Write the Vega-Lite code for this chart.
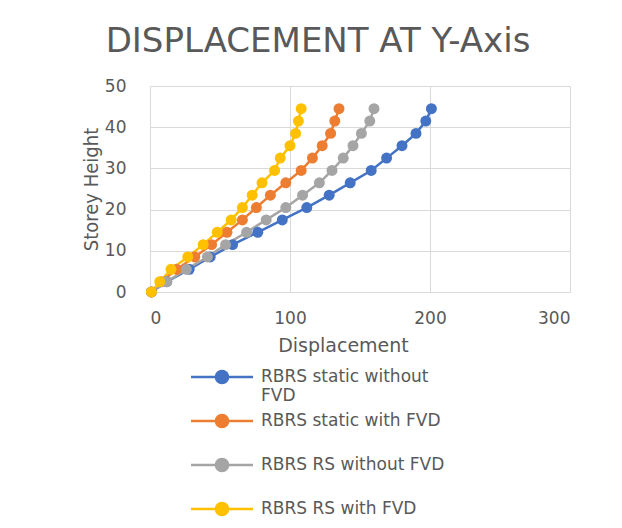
{
  "$schema": "https://vega.github.io/schema/vega-lite/v6.json",
  "autosize": "none",
  "width": 420,
  "height": 206,
  "padding": {"left": 150, "top": 86, "right": 52, "bottom": 236},
  "background": "white",
  "title": {
    "text": "DISPLACEMENT AT Y-Axis",
    "font": "DejaVu Sans",
    "fontSize": 34,
    "fontWeight": "normal",
    "color": "#595959",
    "anchor": "middle",
    "baseline": "alphabetic",
    "offset": -9,
    "dx": -42
  },
  "config": {
    "view": {"stroke": null},
    "font": "DejaVu Sans",
    "style": {"guide-label": {"lineHeight": 19}},
    "axis": {
      "grid": true,
      "gridColor": "#d9d9d9",
      "gridWidth": 1,
      "domain": false,
      "ticks": false,
      "labelColor": "#595959",
      "labelFont": "DejaVu Sans",
      "labelFontSize": 17,
      "titleColor": "#595959",
      "titleFontWeight": "normal"
    }
  },
  "data": {
    "values": [
      {"series": "RBRS static without FVD", "height": 0, "disp": 1},
      {"series": "RBRS static without FVD", "height": 2.5, "disp": 12},
      {"series": "RBRS static without FVD", "height": 5.5, "disp": 28},
      {"series": "RBRS static without FVD", "height": 8.5, "disp": 43},
      {"series": "RBRS static without FVD", "height": 11.5, "disp": 59},
      {"series": "RBRS static without FVD", "height": 14.5, "disp": 77},
      {"series": "RBRS static without FVD", "height": 17.5, "disp": 94.5},
      {"series": "RBRS static without FVD", "height": 20.5, "disp": 112},
      {"series": "RBRS static without FVD", "height": 23.5, "disp": 128},
      {"series": "RBRS static without FVD", "height": 26.5, "disp": 143},
      {"series": "RBRS static without FVD", "height": 29.5, "disp": 158},
      {"series": "RBRS static without FVD", "height": 32.5, "disp": 169},
      {"series": "RBRS static without FVD", "height": 35.5, "disp": 180},
      {"series": "RBRS static without FVD", "height": 38.5, "disp": 190},
      {"series": "RBRS static without FVD", "height": 41.5, "disp": 197},
      {"series": "RBRS static without FVD", "height": 44.5, "disp": 201},
      {"series": "RBRS static with FVD", "height": 0, "disp": 1},
      {"series": "RBRS static with FVD", "height": 2.5, "disp": 8},
      {"series": "RBRS static with FVD", "height": 5.5, "disp": 19},
      {"series": "RBRS static with FVD", "height": 8.5, "disp": 32},
      {"series": "RBRS static with FVD", "height": 11.5, "disp": 44},
      {"series": "RBRS static with FVD", "height": 14.5, "disp": 55},
      {"series": "RBRS static with FVD", "height": 17.5, "disp": 66},
      {"series": "RBRS static with FVD", "height": 20.5, "disp": 76},
      {"series": "RBRS static with FVD", "height": 23.5, "disp": 86},
      {"series": "RBRS static with FVD", "height": 26.5, "disp": 97},
      {"series": "RBRS static with FVD", "height": 29.5, "disp": 108},
      {"series": "RBRS static with FVD", "height": 32.5, "disp": 116},
      {"series": "RBRS static with FVD", "height": 35.5, "disp": 123},
      {"series": "RBRS static with FVD", "height": 38.5, "disp": 129},
      {"series": "RBRS static with FVD", "height": 41.5, "disp": 132},
      {"series": "RBRS static with FVD", "height": 44.5, "disp": 135},
      {"series": "RBRS RS without FVD", "height": 0, "disp": 1},
      {"series": "RBRS RS without FVD", "height": 2.5, "disp": 12},
      {"series": "RBRS RS without FVD", "height": 5.5, "disp": 26},
      {"series": "RBRS RS without FVD", "height": 8.5, "disp": 41},
      {"series": "RBRS RS without FVD", "height": 11.5, "disp": 54},
      {"series": "RBRS RS without FVD", "height": 14.5, "disp": 69},
      {"series": "RBRS RS without FVD", "height": 17.5, "disp": 83},
      {"series": "RBRS RS without FVD", "height": 20.5, "disp": 97},
      {"series": "RBRS RS without FVD", "height": 23.5, "disp": 109},
      {"series": "RBRS RS without FVD", "height": 26.5, "disp": 121},
      {"series": "RBRS RS without FVD", "height": 29.5, "disp": 130},
      {"series": "RBRS RS without FVD", "height": 32.5, "disp": 138},
      {"series": "RBRS RS without FVD", "height": 35.5, "disp": 145},
      {"series": "RBRS RS without FVD", "height": 38.5, "disp": 151},
      {"series": "RBRS RS without FVD", "height": 41.5, "disp": 157},
      {"series": "RBRS RS without FVD", "height": 44.5, "disp": 160},
      {"series": "RBRS RS with FVD", "height": 0, "disp": 1},
      {"series": "RBRS RS with FVD", "height": 2.5, "disp": 7},
      {"series": "RBRS RS with FVD", "height": 5.5, "disp": 15},
      {"series": "RBRS RS with FVD", "height": 8.5, "disp": 27},
      {"series": "RBRS RS with FVD", "height": 11.5, "disp": 38},
      {"series": "RBRS RS with FVD", "height": 14.5, "disp": 48},
      {"series": "RBRS RS with FVD", "height": 17.5, "disp": 58},
      {"series": "RBRS RS with FVD", "height": 20.5, "disp": 66},
      {"series": "RBRS RS with FVD", "height": 23.5, "disp": 73},
      {"series": "RBRS RS with FVD", "height": 26.5, "disp": 80},
      {"series": "RBRS RS with FVD", "height": 29.5, "disp": 89},
      {"series": "RBRS RS with FVD", "height": 32.5, "disp": 93},
      {"series": "RBRS RS with FVD", "height": 35.5, "disp": 100},
      {"series": "RBRS RS with FVD", "height": 38.5, "disp": 104},
      {"series": "RBRS RS with FVD", "height": 41.5, "disp": 106},
      {"series": "RBRS RS with FVD", "height": 44.5, "disp": 108}
    ]
  },
  "encoding": {
    "x": {
      "field": "disp",
      "type": "quantitative",
      "scale": {"domain": [0, 300], "nice": false},
      "axis": {
        "values": [0, 100, 200, 300],
        "title": "Displacement",
        "titleFontSize": 19,
        "titleFont": "DejaVu Sans",
        "labelPadding": 18,
        "titlePadding": 10,
        "titleX": 193
      }
    },
    "y": {
      "field": "height",
      "type": "quantitative",
      "scale": {"domain": [0, 50], "nice": false},
      "axis": {
        "values": [0, 10, 20, 30, 40, 50],
        "title": "Storey Height",
        "titleFont": "DejaVu Sans Condensed, DejaVu Sans",
        "titleFontSize": 20,
        "labelPadding": 24,
        "titlePadding": 3
      }
    },
    "color": {
      "field": "series",
      "type": "nominal",
      "scale": {
        "domain": ["RBRS static without FVD", "RBRS static with FVD", "RBRS RS without FVD", "RBRS RS with FVD"],
        "range": ["#4472C4", "#ED7D31", "#A5A5A5", "#FFC000"]
      },
      "legend": {
        "orient": "none",
        "legendX": 55,
        "legendY": 274,
        "title": null,
        "symbolType": "M-2,0L2,0M-0.39,0A0.39,0.39,0,1,1,0.39,0A0.39,0.39,0,1,1,-0.39,0Z",
        "symbolSize": 961,
        "symbolStrokeWidth": 2.5,
        "labelFont": "DejaVu Sans",
        "labelFontSize": 17,
        "labelColor": "#595959",
        "labelLimit": 300,
        "labelOffset": 22,
        "labelExpr": "datum.label == 'RBRS static without FVD' ? ['RBRS static without', 'FVD'] : [datum.label, ' ']",
        "rowPadding": 0
      }
    },
    "order": {"field": "height", "type": "quantitative"}
  },
  "layer": [
    {"mark": {"type": "line", "strokeWidth": 2.5}},
    {"mark": {"type": "point", "shape": "circle", "filled": true, "opacity": 1, "size": 120}}
  ]
}
